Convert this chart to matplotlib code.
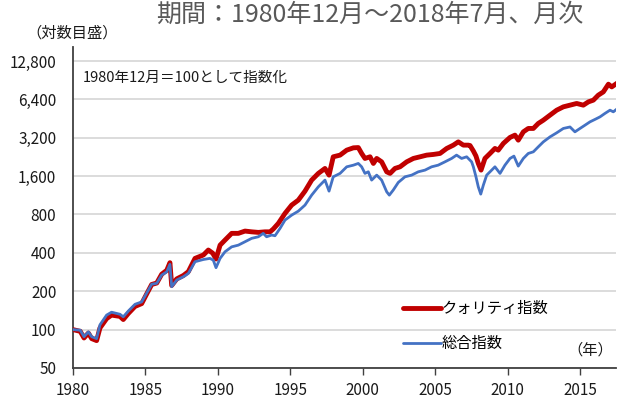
import matplotlib
matplotlib.use("Agg")
import matplotlib.pyplot as plt
from matplotlib.ticker import NullLocator

plt.rcParams['font.family'] = ['Noto Sans CJK JP', 'DejaVu Sans']

# ---------------- data (axis position in years, index value) ----------------
q_years = [1980.00, 1980.50, 1980.76, 1981.06, 1981.29, 1981.63, 1981.86, 1982.32, 1982.66,
           1983.24, 1983.47, 1983.82, 1984.28, 1984.74, 1985.08, 1985.43, 1985.78, 1986.12,
           1986.47, 1986.69, 1986.81, 1987.16, 1987.62, 1987.96, 1988.42, 1989.00, 1989.34,
           1989.64, 1989.87, 1990.15, 1990.49, 1990.95, 1991.41, 1991.87, 1992.33, 1992.79,
           1993.25, 1993.60, 1993.82, 1994.17, 1994.63, 1995.09, 1995.55, 1996.01, 1996.47,
           1996.93, 1997.39, 1997.67, 1997.96, 1998.43, 1998.89, 1999.35, 1999.69, 1999.92,
           2000.15, 2000.50, 2000.73, 2000.96, 2001.30, 2001.65, 2001.88, 2002.22, 2002.57,
           2003.03, 2003.49, 2003.95, 2004.41, 2004.87, 2005.33, 2005.79, 2006.25, 2006.59,
           2006.94, 2007.28, 2007.40, 2007.63, 2007.81, 2007.97, 2008.16, 2008.43, 2008.78,
           2009.12, 2009.35, 2009.70, 2010.16, 2010.50, 2010.73, 2011.08, 2011.42, 2011.77,
           2012.11, 2012.46, 2012.92, 2013.38, 2013.84, 2014.30, 2014.76, 2015.22, 2015.57,
           2015.91, 2016.25, 2016.60, 2016.95, 2017.18, 2017.55]
q_vals = [100, 97, 86, 94, 85, 82, 103, 122, 130,
          127, 120, 134, 152, 160, 190, 226, 232, 272,
          292, 335, 222, 250, 266, 285, 362, 385, 421,
          398, 358, 460, 504, 569, 569, 593, 585, 579,
          585, 585, 615, 681, 816, 948, 1037, 1220, 1489,
          1680, 1838, 1629, 2268, 2338, 2558, 2667, 2680, 2410,
          2202, 2268, 2012, 2202, 2071, 1730, 1680, 1838, 1893,
          2071, 2202, 2268, 2338, 2367, 2410, 2637, 2800, 2971,
          2800, 2800, 2780, 2520, 2300, 2012, 1783, 2202, 2410,
          2637, 2558, 2888, 3218, 3354, 3064, 3560, 3785, 3785,
          4142, 4396, 4814, 5265, 5591, 5765, 5943, 5765, 6118,
          6310, 6903, 7326, 8420, 8020, 8576]

t_years = [1980.00, 1980.50, 1980.76, 1981.06, 1981.29, 1981.63, 1981.86, 1982.32, 1982.66,
           1983.24, 1983.47, 1983.82, 1984.28, 1984.74, 1985.08, 1985.43, 1985.78, 1986.12,
           1986.47, 1986.69, 1986.81, 1987.16, 1987.62, 1987.96, 1988.42, 1989.00, 1989.45,
           1989.68, 1989.87, 1990.15, 1990.49, 1990.95, 1991.41, 1991.87, 1992.33, 1992.79,
           1993.13, 1993.36, 1993.71, 1993.94, 1994.29, 1994.63, 1995.09, 1995.55, 1996.01,
           1996.47, 1996.93, 1997.39, 1997.67, 1997.96, 1998.43, 1998.89, 1999.35, 1999.69,
           1999.92, 2000.15, 2000.38, 2000.61, 2000.96, 2001.30, 2001.65, 2001.83, 2002.10,
           2002.45, 2002.91, 2003.37, 2003.83, 2004.29, 2004.75, 2005.20, 2005.67, 2006.13,
           2006.47, 2006.82, 2007.17, 2007.51, 2007.63, 2007.81, 2007.97, 2008.14, 2008.32,
           2008.55, 2008.78, 2009.12, 2009.47, 2009.81, 2010.16, 2010.43, 2010.73, 2011.08,
           2011.42, 2011.77, 2012.11, 2012.46, 2012.92, 2013.38, 2013.84, 2014.30, 2014.64,
           2014.99, 2015.33, 2015.68, 2016.02, 2016.37, 2016.71, 2017.06, 2017.29, 2017.55]
t_vals = [100, 99, 88, 96, 88, 85, 109, 130, 137,
          132, 126, 140, 158, 165, 193, 227, 231, 268,
          284, 325, 217, 245, 260, 276, 341, 355, 362,
          351, 306, 362, 408, 446, 460, 489, 520, 535,
          569, 535, 552, 545, 623, 723, 791, 850, 948,
          1135, 1319, 1489, 1220, 1580, 1680, 1893, 1950, 2012,
          1893, 1680, 1730, 1489, 1629, 1489, 1205, 1135, 1243,
          1428, 1580, 1629, 1730, 1783, 1893, 1950, 2071, 2202,
          2338, 2202, 2268, 2071, 1893, 1580, 1319, 1156, 1360,
          1629, 1730, 1893, 1680, 1950, 2202, 2296, 1917, 2202,
          2410, 2482, 2715, 2971, 3251, 3497, 3785, 3888, 3560,
          3785, 4013, 4265, 4454, 4665, 4964, 5265, 5110, 5393]

y_ticks = [50, 100, 200, 400, 800, 1600, 3200, 6400, 12800]
y_labels = ['50', '100', '200', '400', '800', '1,600', '3,200', '6,400', '12,800']
x_ticks = [1980, 1985, 1990, 1995, 2000, 2005, 2010, 2015]
x_labels = ['1980', '1985', '1990', '1995', '2000', '2005', '2010', '2015']

series_names = ['クォリティ指数', '総合指数']
title_text = '期間：1980年12月～2018年7月、月次'
note_text = '1980年12月＝100として指数化'
yunit_text = '（対数目盛）'
xunit_text = '（年）'

# ---------------- figure ----------------
W, H = 626, 400
fig = plt.figure(figsize=(W / 100, H / 100), dpi=100)
ax = fig.add_axes([73 / W, 32 / H, 543 / W, 321 / H])

ax.set_yscale('log', base=2)
ax.set_ylim(50, 12800 * 2 ** (14 / 38.4))
ax.set_xlim(1980, 1980 + 543 / 14.49)

ax.plot(q_years, q_vals, color='#C00000', lw=3.5, solid_joinstyle='round',
        solid_capstyle='round', zorder=3, label=series_names[0])
ax.plot(t_years, t_vals, color='#4472C4', lw=2.0, solid_joinstyle='round',
        solid_capstyle='round', zorder=4, label=series_names[1])

ax.set_yticks(y_ticks)
ax.set_yticklabels(y_labels)
ax.yaxis.set_minor_locator(NullLocator())
ax.set_xticks(x_ticks)
ax.set_xticklabels(x_labels)
ax.xaxis.set_minor_locator(NullLocator())

ax.tick_params(axis='y', length=0, pad=12, labelsize=11, labelcolor='#1a1a1a')
ax.tick_params(axis='x', length=5, width=1.0, direction='out', color='#404040',
               pad=5, labelsize=11, labelcolor='#1a1a1a')

ax.grid(axis='y', color='#D9D9D9', lw=1.3)
ax.set_axisbelow(True)
for s in ['top', 'right']:
    ax.spines[s].set_visible(False)
for s in ['left', 'bottom']:
    ax.spines[s].set_color('#404040')
    ax.spines[s].set_linewidth(1.3)

leg = ax.legend(loc='upper left', bbox_to_anchor=(403 / W, 1 - 300 / H),
                bbox_transform=fig.transFigure, frameon=False, fontsize=11,
                handlelength=2.5, handletextpad=0.05, labelspacing=1.2,
                borderpad=0, borderaxespad=0)

fig.text(370 / W, 1 - 15 / H, title_text, ha='center', va='center',
         fontsize=18, color='#595959')
fig.text(72 / W, 1 - 33 / H, yunit_text, ha='center', va='center',
         fontsize=11, color='#1a1a1a')
fig.text(83 / W, 1 - 78 / H, note_text, ha='left', va='center',
         fontsize=10.5, color='#1a1a1a')
fig.text(590 / W, 1 - 350 / H, xunit_text, ha='center', va='center',
         fontsize=11, color='#1a1a1a')

fig.savefig('out.png', dpi=100)
